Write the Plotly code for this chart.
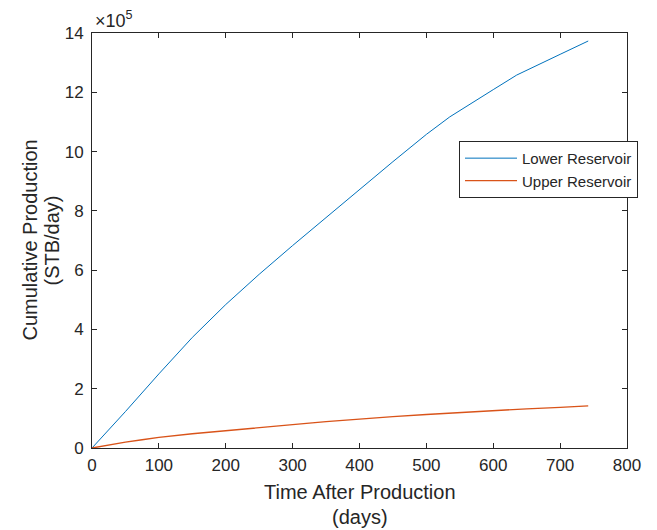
import plotly.graph_objects as go

# Data
days_lower = [0, 50, 100, 150, 200, 250, 300, 350, 400, 450, 500, 535, 600, 635, 700, 742]
lower_res = [0, 1.23e5, 2.50e5, 3.73e5, 4.84e5, 5.86e5, 6.83e5, 7.78e5, 8.72e5, 9.66e5,
             10.58e5, 11.17e5, 12.09e5, 12.58e5, 13.28e5, 13.73e5]
days_upper = [0, 25, 50, 75, 100, 150, 200, 250, 300, 350, 400, 450, 500, 550, 600, 650, 700, 742]
upper_res = [0, 0.11e5, 0.20e5, 0.28e5, 0.36e5, 0.48e5, 0.59e5, 0.69e5, 0.79e5, 0.89e5, 0.98e5,
             1.06e5, 1.13e5, 1.20e5, 1.26e5, 1.32e5, 1.37e5, 1.42e5]

x_ticks = [0, 100, 200, 300, 400, 500, 600, 700, 800]
y_ticks = [0, 2e5, 4e5, 6e5, 8e5, 10e5, 12e5, 14e5]
y_tick_labels = ["0", "2", "4", "6", "8", "10", "12", "14"]

TXT = "#262626"
FONT = "Liberation Sans, Arial, sans-serif"

fig = go.Figure()
fig.add_trace(go.Scatter(x=days_lower, y=lower_res, mode="lines", name="Lower Reservoir",
                         line=dict(color="#0072BD", width=1)))
fig.add_trace(go.Scatter(x=days_upper, y=upper_res, mode="lines", name="Upper Reservoir",
                         line=dict(color="#D95319", width=1.4)))

axis_common = dict(showline=True, linecolor=TXT, linewidth=1, mirror="ticks",
                   ticks="inside", ticklen=5, tickcolor=TXT, showgrid=False, zeroline=False,
                   tickfont=dict(family=FONT, size=17, color=TXT))

fig.update_xaxes(range=[0, 800], tickvals=x_ticks, ticktext=[str(v) for v in x_ticks],
                 ticklabelstandoff=2, **axis_common)
fig.update_yaxes(range=[0, 14e5], tickvals=y_ticks, ticktext=y_tick_labels,
                 ticklabelstandoff=4, **axis_common)

fig.update_layout(
    width=657, height=530,
    margin=dict(l=84, r=38, t=25, b=90),
    plot_bgcolor="white", paper_bgcolor="white",
    font=dict(family=FONT, color=TXT),
    showlegend=True,
    legend=dict(x=0.686, y=0.74, xanchor="left", yanchor="top",
                bordercolor=TXT, borderwidth=1, bgcolor="white",
                font=dict(family=FONT, size=15, color=TXT),
                tracegroupgap=0, itemwidth=52),
    annotations=[
        dict(text="×10<sup>5</sup>", xref="paper", yref="paper", x=0, y=1,
             xanchor="left", yanchor="bottom", xshift=1, yshift=0, showarrow=False,
             font=dict(family=FONT, size=18, color=TXT)),
        dict(text="Time After Production", xref="paper", yref="paper", x=0.5, y=0,
             xanchor="center", yanchor="middle", yshift=-44, showarrow=False,
             font=dict(family=FONT, size=20, color=TXT)),
        dict(text="(days)", xref="paper", yref="paper", x=0.5, y=0,
             xanchor="center", yanchor="middle", yshift=-69, showarrow=False,
             font=dict(family=FONT, size=20, color=TXT)),
        dict(text="Cumulative Production", xref="paper", yref="paper", x=0, y=0.5,
             xanchor="center", yanchor="middle", xshift=-63, textangle=-90, showarrow=False,
             font=dict(family=FONT, size=20, color=TXT)),
        dict(text="(STB/day)", xref="paper", yref="paper", x=0, y=0.5,
             xanchor="center", yanchor="middle", xshift=-41, textangle=-90, showarrow=False,
             font=dict(family=FONT, size=20, color=TXT)),
    ],
)

fig.write_html("out.html")
